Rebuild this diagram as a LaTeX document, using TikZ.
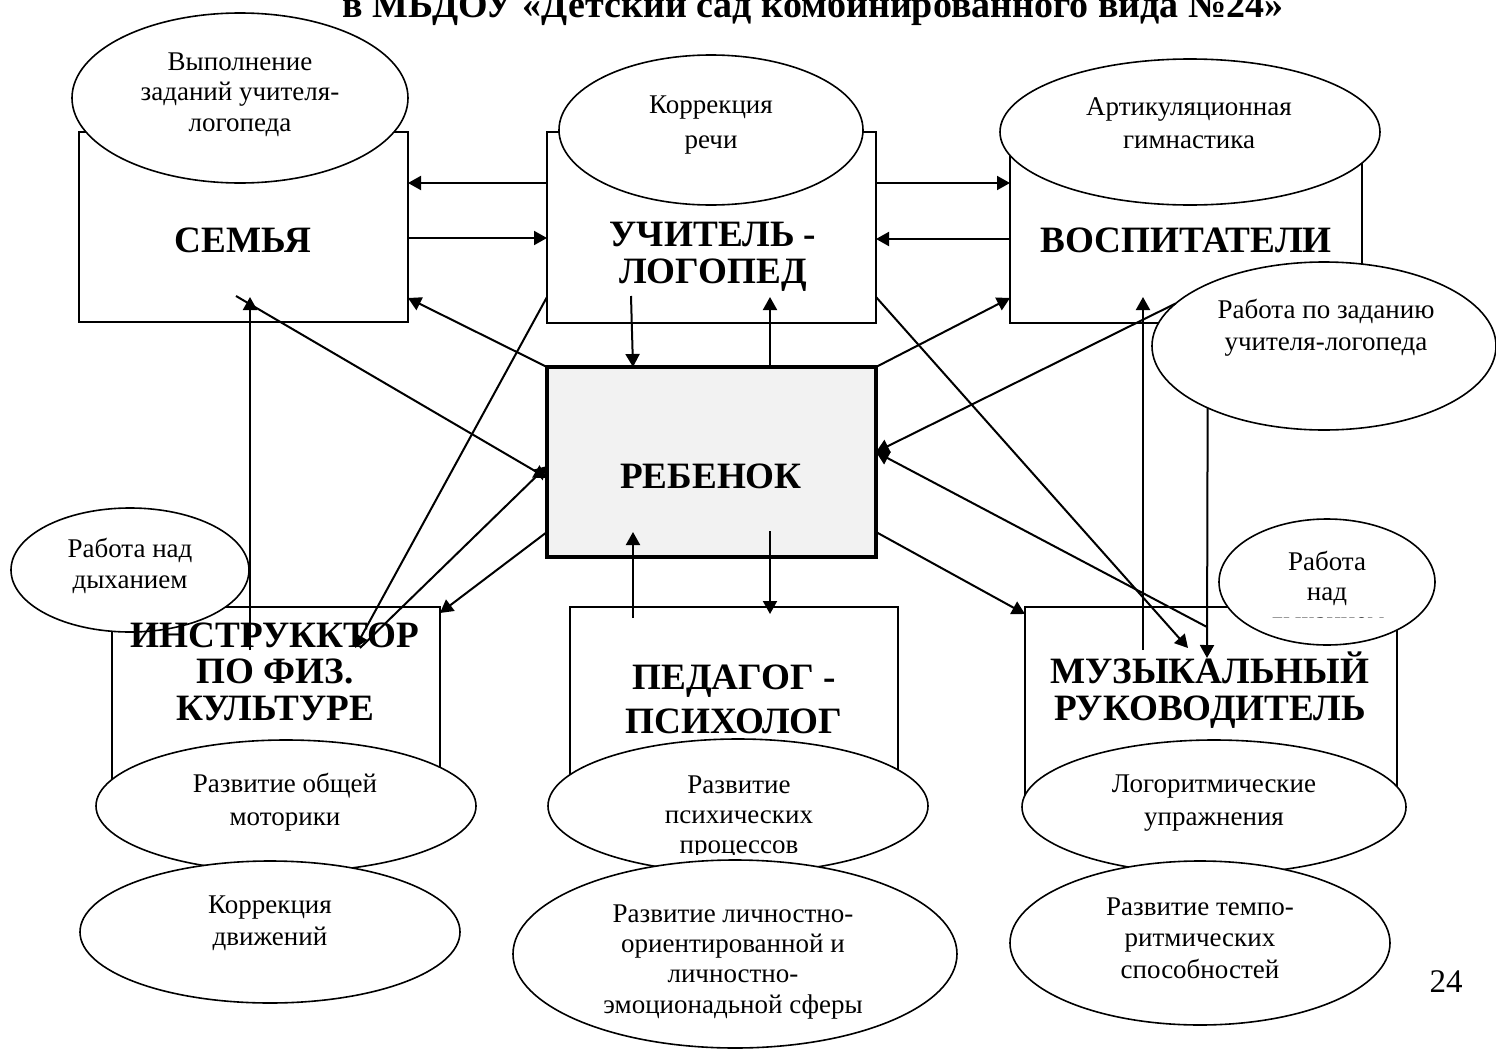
\documentclass[tikz,border=0pt]{standalone}
\usepackage{fontspec}
\setmainfont{Liberation Serif}
\usetikzlibrary{shapes.geometric,arrows.meta}
\newcommand{\mlines}[1]{\begin{tabular}[t]{@{}c@{}}#1\end{tabular}}
\definecolor{rebfill}{HTML}{F2F2F2}
\begin{document}
\begin{tikzpicture}[x=0.5pt,y=-0.5pt,
  box/.style={draw, line width=0.8pt, fill=white, rectangle, inner sep=0pt, outer sep=0pt},
  ell/.style={draw, line width=0.8pt, fill=white, ellipse, inner sep=0pt, outer sep=0pt},
  etext/.style={font=\fontsize{13.5}{#1}\selectfont, inner sep=0pt, anchor=base},
  btext/.style={font=\fontsize{18.6}{#1}\selectfont\bfseries, inner sep=0pt, anchor=base},
  arr/.style={line width=1pt, -{Triangle[length=6.5pt,width=7pt]}},
]
\useasboundingbox (0,0) rectangle (1496,1050);
\clip (0,0) rectangle (1496,1050);

% title (cut at the top of the page, as in the reference)
\node[font=\fontsize{19}{20}\selectfont\bfseries, anchor=base, inner sep=0pt] (title) at (813,17) {в МБДОУ «Детский сад комбинированного вида №24»};

% boxes
\node[box, minimum width=164.5pt, minimum height=95pt] (semya) at (243.5,227) {};
\node[box, minimum width=164.5pt, minimum height=95.5pt] (logoped) at (711.5,227.5) {};
\node[box, minimum width=176pt, minimum height=95.5pt] (vosp) at (1186,227.5) {};
\node[box, line width=2pt, fill=rebfill, minimum width=164.5pt, minimum height=95pt] (rebenok) at (711.5,462) {};
\node[box, minimum width=164pt, minimum height=96.5pt] (instr) at (276,703.5) {};
\node[box, minimum width=164pt, minimum height=96.5pt] (pedagog) at (734,703.5) {};
\node[box, minimum width=186pt, minimum height=100pt] (muz) at (1211,707) {};

% ellipses
\node[ell, minimum width=168pt, minimum height=85pt] (e1) at (240,98) {};
\node[ell, minimum width=152pt, minimum height=75pt] (e2) at (711,130) {};
\node[ell, minimum width=190pt, minimum height=73pt] (e3) at (1190,132) {};
\node[ell, minimum width=172pt, minimum height=84pt] (e4) at (1324,346) {};
\node[ell, minimum width=119pt, minimum height=62pt] (e5) at (130,570) {};
\node[ell, minimum width=190pt, minimum height=66pt] (e6) at (286,806) {};
\node[ell, minimum width=190pt, minimum height=71pt] (e7) at (270,932) {};
\node[ell, minimum width=190pt, minimum height=67pt] (e8) at (738,806) {};
\node[ell, minimum width=222pt, minimum height=94pt] (e9) at (735,954) {};
\node[ell, minimum width=192pt, minimum height=67pt] (e10) at (1214,807) {};
\node[ell, minimum width=108pt, minimum height=63pt] (e11) at (1327,582) {};
\node[ell, minimum width=190pt, minimum height=82pt] (e12) at (1200,943) {};

% ellipse texts
\node[etext=15.3pt] (t1) at (240,70) {\mlines{Выполнение\\заданий учителя-\\логопеда}};
\node[etext=17.5pt] (t2) at (711,113) {\mlines{Коррекция\\речи}};
\node[etext=16.5pt] (t3) at (1189,115) {\mlines{Артикуляционная\\гимнастика}};
\node[etext=16pt] (t4) at (1326,318) {\mlines{Работа по заданию\\учителя-логопеда}};
\node[etext=15.5pt] (t5) at (130,557) {\mlines{Работа над\\дыханием}};
\node[etext=16.5pt] (t6) at (285,792) {\mlines{Развитие общей\\моторики}};
\node[etext=16pt] (t7) at (270,913) {\mlines{Коррекция\\движений}};
\begin{scope}
  \clip (540,760) rectangle (940,854);
  \node[etext=15pt] (t8) at (739,793) {\mlines{Развитие\\психических\\процессов}};
\end{scope}
\node[etext=15.2pt] (t9) at (733,922) {\mlines{Развитие личностно-\\ориентированной и\\личностно-\\эмоционадьной сферы}};
\node[etext=16.5pt] (t10) at (1214,792) {\mlines{Логоритмические\\упражнения}};
\begin{scope}
  \clip (1220,520) rectangle (1434,617);
  \node[etext=15pt] (t11) at (1327,570) {\mlines{Работа\\над\\дыханием}};
\end{scope}
\node[etext=15.8pt] (t12) at (1200,915) {\mlines{Развитие темпо-\\ритмических\\способностей}};

% box texts
\node[btext=18.5pt] (tsemya) at (243,252) {СЕМЬЯ};
\node[btext=18.5pt] (tlogoped) at (713,246) {\mlines{УЧИТЕЛЬ -\\ЛОГОПЕД}};
\node[btext=18.5pt] (tvosp) at (1186,252) {ВОСПИТАТЕЛИ};
\node[btext=18.5pt] (treb) at (711,488) {РЕБЕНОК};
\node[btext=18.25pt] (tinstr) at (275,647) {\mlines{ИНСТРУККТОР\\ПО ФИЗ.\\КУЛЬТУРЕ}};
\node[btext=22pt] (tped) at (734,689) {\mlines{ПЕДАГОГ -\\ПСИХОЛОГ}};
\node[btext=18.5pt] (tmuz) at (1210,683) {\mlines{МУЗЫКАЛЬНЫЙ\\РУКОВОДИТЕЛЬ}};

\node[font=\fontsize{16.5}{18}\selectfont, anchor=base, inner sep=0pt] (pnum) at (1446,992) {24};

% free ends of connectors
\coordinate (p5) at (631,296);
\coordinate (p6) at (770,297);
\coordinate (p9) at (236,296);
\coordinate (p10a) at (250,650);
\coordinate (p10b) at (250,297);
\coordinate (p11) at (355,648);
\coordinate (p12) at (360,648);
\coordinate (p14) at (770,614);
\coordinate (p15) at (633,618);
\coordinate (p17) at (1188,648);
\coordinate (p18) at (1207,627);
\coordinate (p20a) at (1143,650);
\coordinate (p20b) at (1143,297);
\coordinate (p21) at (1207,658);

% connectors
\draw[arr] (logoped.west |- 0,183) -- (semya.east |- 0,183);
\draw[arr] (semya.east |- 0,238) -- (logoped.west |- 0,238);
\draw[arr] (logoped.east |- 0,183) -- (vosp.west |- 0,183);
\draw[arr] (vosp.west |- 0,239) -- (logoped.east |- 0,239);
\draw[arr] (p5) -- (rebenok.north -| 633,0);
\draw[arr] (rebenok.north -| 770,0) -- (p6);
\draw[arr] (rebenok.north west) -- (semya.east |- 0,298);
\draw[arr] (rebenok.north east) -- (vosp.west |- 0,298);
\draw[arr] (p9) -- (rebenok.west |- 0,478);
\draw[arr] (p10a) -- (p10b);
\draw[arr] (logoped.west |- 0,297) -- (p11);
\draw[arr] (p12) -- (rebenok.west |- 0,466);
\draw[arr] (rebenok.west |- 0,532) -- (instr.east |- 0,613);
\draw[arr] (rebenok.south -| 770,0) ++(0,-26) -- (p14);
\draw[arr] (p15) -- (633,532);
\draw[arr] (rebenok.east |- 0,532) -- (muz.west |- 0,614);
\draw[arr] (logoped.east |- 0,297) -- (p17);
\draw[arr] (p18) -- (rebenok.east |- 0,452);
\draw[arr] (e4.164) -- (rebenok.east |- 0,452);
\draw[arr] (p20a) -- (p20b);
\draw[arr] (e4.208) -- (p21);
\end{tikzpicture}
\end{document}
